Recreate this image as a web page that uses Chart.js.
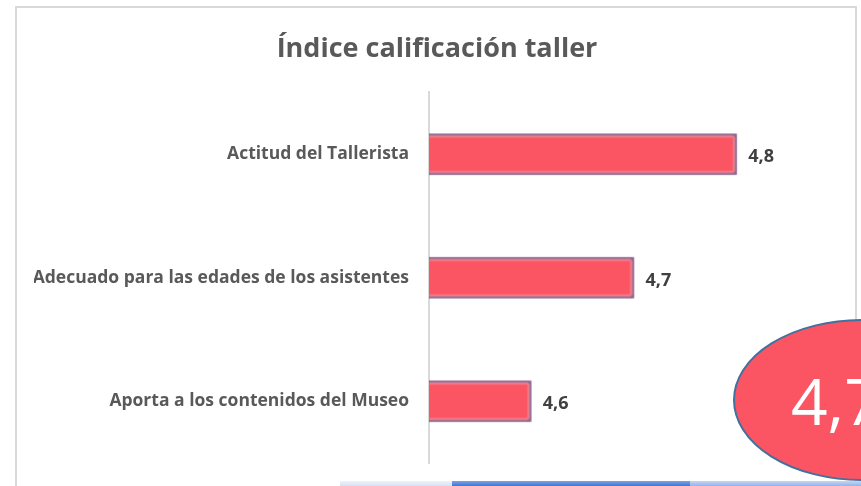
<!DOCTYPE html>
<html>
<head>
<meta charset="utf-8">
<script src="https://cdn.jsdelivr.net/npm/chart.js@4/dist/chart.umd.min.js"></script>
<style>
  html, body { margin: 0; padding: 0; background: #fff; }
  #wrap { width: 861px; height: 486px; position: relative; }
</style>
</head>
<body>
<div id="wrap"><canvas id="tallerChart" width="861" height="486"></canvas></div>
<script>
// Datos del gráfico
const categorias = [
    "Actitud del Tallerista",
    "Adecuado para las edades de los asistentes",
    "Aporta a los contenidos del Museo"
];
const calificaciones = [4.8, 4.7, 4.6];
const escalaMin = 4.5;
const escalaMax = 4.9;
const titulo = "Índice calificación taller";

// promedio que se muestra en el óvalo
const promedio = calificaciones.reduce((a, b) => a + b, 0) / calificaciones.length;

function formatoComa(v) {
    return v.toFixed(1).replace(".", ",");
}

// Marco, franja inferior y óvalo con el promedio
const decoracion = {
    id: "decoracion",
    beforeDraw(chart) {
        const ctx = chart.ctx;
        ctx.save();
        ctx.fillStyle = "#ffffff";
        ctx.fillRect(0, 0, chart.width, chart.height);
        ctx.strokeStyle = "#d9d9d9";
        ctx.lineWidth = 2;
        ctx.strokeRect(16, 7, 840, 500);
        ctx.restore();
    },
    beforeDatasetsDraw(chart) {
        chart.ctx.save();
        chart.ctx.filter = "blur(1.2px)";
    },
    afterDatasetsDraw(chart) {
        chart.ctx.restore();
        // etiquetas de valor
        const ctx = chart.ctx;
        const meta = chart.getDatasetMeta(0);
        ctx.save();
        ctx.font = "bold 18px 'Open Sans'";
        ctx.fillStyle = "#404040";
        ctx.textBaseline = "middle";
        meta.data.forEach((bar, i) => {
            ctx.fillText(formatoComa(calificaciones[i]), bar.x + 11, bar.y + 3);
        });
        ctx.restore();
    },
    afterDraw(chart) {
        const ctx = chart.ctx;
        ctx.save();
        // franja azul inferior
        let g = ctx.createLinearGradient(0, 481, 0, 486);
        g.addColorStop(0, "#eef3fb");
        g.addColorStop(1, "#d5e1f3");
        ctx.fillStyle = g;
        ctx.fillRect(340, 481, 112, 5);
        g = ctx.createLinearGradient(0, 481, 0, 486);
        g.addColorStop(0, "#7aa5ea");
        g.addColorStop(1, "#3f73d6");
        ctx.fillStyle = g;
        ctx.fillRect(452, 481, 238, 5);
        g = ctx.createLinearGradient(0, 481, 0, 486);
        g.addColorStop(0, "#c4d7f5");
        g.addColorStop(1, "#93b3ea");
        ctx.fillStyle = g;
        ctx.fillRect(690, 481, 171, 5);

        // óvalo
        ctx.beginPath();
        ctx.ellipse(862, 400, 128, 80, 0, 0, Math.PI * 2);
        ctx.fillStyle = "#fb5462";
        ctx.fill();
        ctx.lineWidth = 2;
        ctx.strokeStyle = "#41719c";
        ctx.stroke();
        ctx.fillStyle = "#ffffff";
        ctx.font = "400 64px 'Open Sans'";
        ctx.textBaseline = "alphabetic";
        ctx.fillText(formatoComa(promedio), 791, 425);
        ctx.restore();
    }
};

new Chart(document.getElementById("tallerChart").getContext("2d"), {
    type: "bar",
    data: {
        labels: categorias,
        datasets: [{
            data: calificaciones,
            backgroundColor: "#fb5462",
            borderColor: "rgba(105, 50, 105, 0.85)",
            borderWidth: 3,
            borderSkipped: false,
            barPercentage: 0.68,
            categoryPercentage: 0.5
        }]
    },
    options: {
        indexAxis: "y",
        responsive: false,
        animation: false,
        layout: { padding: { left: 34, right: 21, top: 0, bottom: 23 } },
        plugins: {
            legend: { display: false },
            tooltip: { enabled: false },
            title: {
                display: true,
                text: titulo,
                color: "#595959",
                font: { family: "'Open Sans'", size: 27, weight: "bold", lineHeight: 1.2 },
                padding: { top: 33, bottom: 27 }
            }
        },
        scales: {
            x: {
                display: false,
                min: escalaMin,
                max: escalaMax
            },
            y: {
                grid: { display: false },
                border: { display: true, color: "#d9d9d9", width: 2 },
                ticks: {
                    color: "#595959",
                    padding: 12,
                    font: { family: "'Open Sans'", size: 17.5, weight: "bold" }
                },
                afterFit(scale) { scale.width = 395; }
            }
        }
    },
    plugins: [decoracion]
});
</script>
</body>
</html>
